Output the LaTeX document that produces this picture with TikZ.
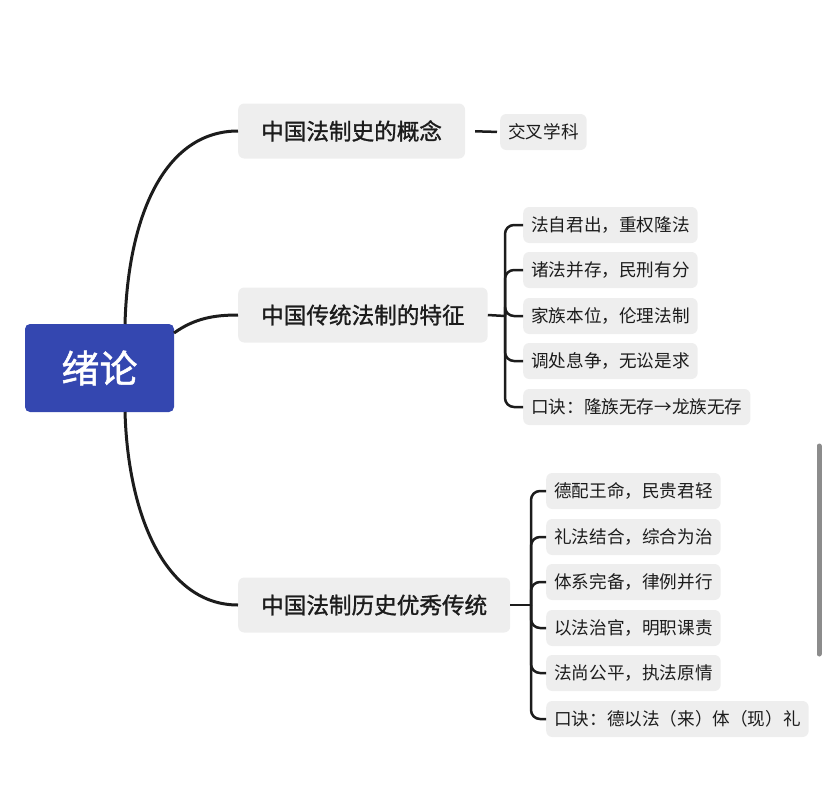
\documentclass[tikz,border=0pt]{standalone}
\usepackage{fontspec}
\usepackage{tikz}
\newfontfamily\cjk{Noto Sans CJK SC}
\newfontfamily\cjkmid[FakeBold=1.3]{Noto Sans CJK SC}
\definecolor{rootblue}{HTML}{3447B0}
\definecolor{boxgray}{HTML}{EEEEEE}
\definecolor{inkgray}{HTML}{1C1C1C}
\tikzset{
  rootbox/.style={fill=rootblue,rounded corners=5pt,text=white,
    font=\cjkmid\fontsize{38}{40}\selectfont,minimum width=149pt,minimum height=88pt},
  topicbox/.style={fill=boxgray,rounded corners=6pt,text=inkgray,anchor=west,
    font=\cjkmid\fontsize{22.6}{24}\selectfont,inner xsep=23pt,minimum height=55pt},
  leafbox/.style={fill=boxgray,rounded corners=6pt,text=inkgray,anchor=west,
    font=\cjk\fontsize{17.6}{20}\selectfont,inner xsep=8pt,minimum height=36pt},
  branch/.style={line width=3pt,inkgray},
  twig/.style={line width=2.5pt,inkgray,rounded corners=9pt}
}

\begin{document}
\begin{tikzpicture}[x=1pt,y=-1pt]
\useasboundingbox (0,0) rectangle (828,804);
% root
\node[rootbox] (root) at (99.5,368) {绪论};
% topics
\node[topicbox] (t1) at (238,131) {中国法制史的概念};
\node[topicbox] (t2) at (238,315) {中国传统法制的特征};
\node[topicbox] (t3) at (238,605) {中国法制历史优秀传统};
% leaves of t1
\node[leafbox] (l11) at (500,132) {交叉学科};
% leaves of t2
\node[leafbox] (l21) at (523,225) {法自君出，重权隆法};
\node[leafbox] (l22) at (523,270) {诸法并存，民刑有分};
\node[leafbox] (l23) at (523,316) {家族本位，伦理法制};
\node[leafbox] (l24) at (523,361) {调处息争，无讼是求};
\node[leafbox] (l25) at (523,407) {口诀：隆族无存→龙族无存};
% leaves of t3
\node[leafbox] (l31) at (546,491) {德配王命，民贵君轻};
\node[leafbox] (l32) at (546,537) {礼法结合，综合为治};
\node[leafbox] (l33) at (546,582) {体系完备，律例并行};
\node[leafbox] (l34) at (546,628) {以法治官，明职课责};
\node[leafbox] (l35) at (546,673) {法尚公平，执法原情};
\node[leafbox] (l36) at (546,719) {口诀：德以法（来）体（现）礼};
% root to topics
\coordinate (rtop) at (125,324);
\coordinate (rbot) at (125,412);
\coordinate (rmid) at (174,333);
\draw[branch] (rtop) .. controls (128,215) and (165,131) .. (t1.west);
\draw[branch] (rmid) .. controls (195,318) and (215,315) .. (t2.west);
\draw[branch] (rbot) .. controls (128,515) and (165,605) .. (t3.west);
% topics to leaves
\draw[twig,shorten <=10pt,shorten >=3pt] (t1.east) -- (l11.west);
\coordinate (j2) at (505,316);
\draw[twig] (t2.east) -- (j2);
\foreach \n in {l21,l22,l23,l24,l25}
  \draw[twig] (j2) |- (\n.west);
\coordinate (j3) at (531,605);
\draw[twig] (t3.east) -- (j3);
\foreach \n in {l31,l32,l33,l34,l35,l36}
  \draw[twig] (j3) |- (\n.west);
% scroll bar
\draw[line width=5pt,gray!90,line cap=round] (819,446) -- (819,654);
\end{tikzpicture}
\end{document}
